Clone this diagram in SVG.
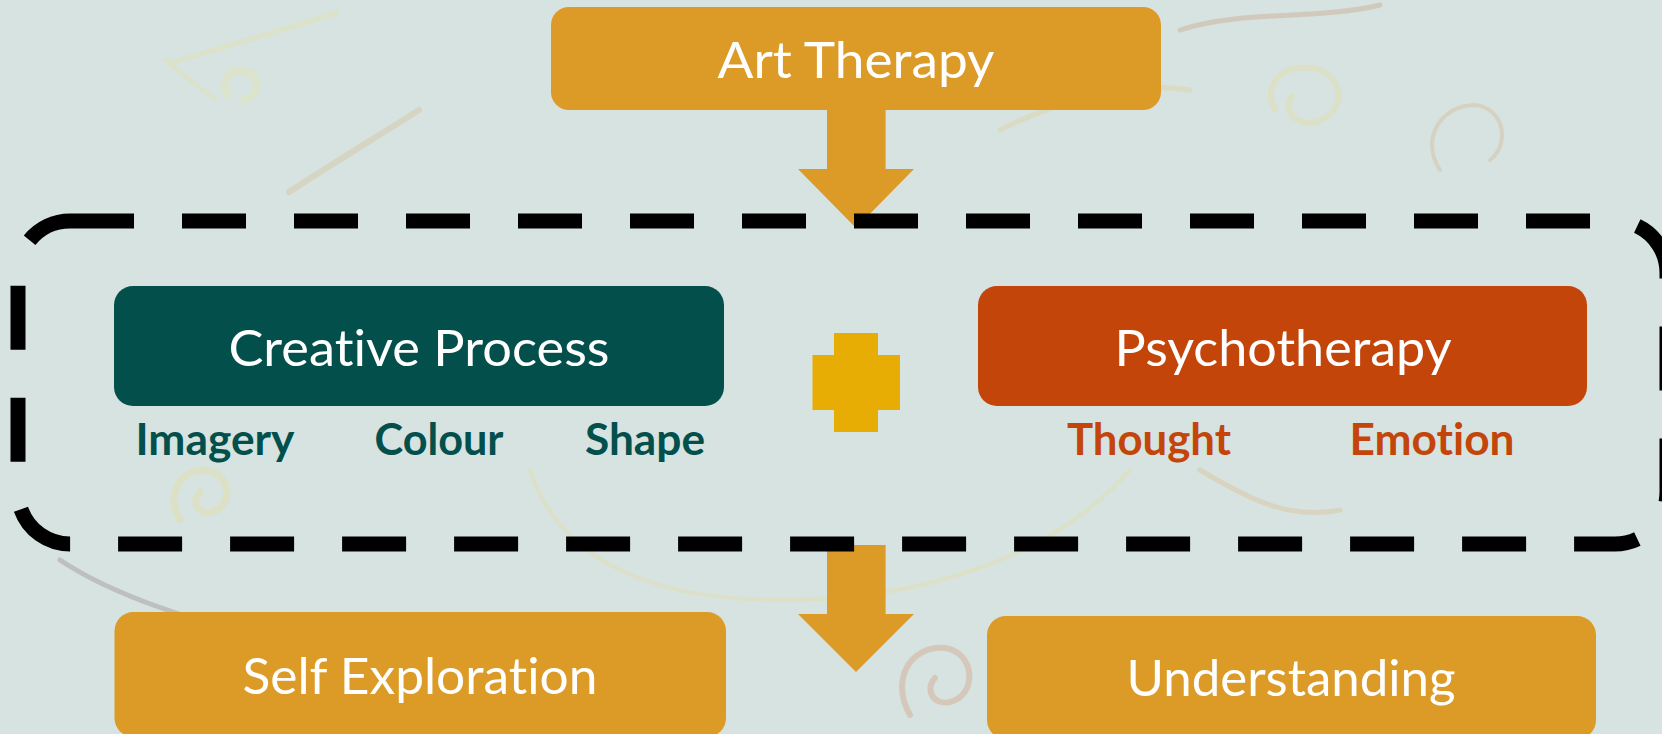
<svg xmlns="http://www.w3.org/2000/svg" width="1662" height="734" viewBox="0 0 1662 734">
  <defs>
    <style>
      .gold{fill:#dc9a27}
      .title{font-family:Lato,"Open Sans","Liberation Sans",sans-serif;font-weight:400;font-size:51px;fill:#ffffff;text-anchor:middle;font-variant-ligatures:none}
      .sub{font-family:Lato,"Open Sans","Liberation Sans",sans-serif;font-weight:700;font-size:43px;text-anchor:middle;font-variant-ligatures:none}
      .teal{fill:#034f4c}
      .rust{fill:#c4450a}
      .paint{fill:none;stroke-linecap:round;stroke-linejoin:round}
      .frame{fill:none;stroke:#000000;stroke-width:15;stroke-dasharray:64 48;stroke-linecap:butt}
    </style>
  </defs>

  <!-- washed-out paint-splatter backdrop -->
  <g id="backdrop">
    <rect x="0" y="0" width="1662" height="734" fill="#d6e3e0"/>
    <g class="paint" opacity="0.22">
      <path d="M171,63 C230,45 290,28 336,13" stroke="#f2e27a" stroke-width="5"/>
      <path d="M165,60 C185,75 200,90 215,98" stroke="#f2e27a" stroke-width="4"/>
      <path d="M228,95 C218,80 232,66 248,72 C262,78 258,96 244,100" stroke="#f4e48a" stroke-width="8"/>
      <path d="M289,192 C330,165 380,135 419,110" stroke="#d8a45a" stroke-width="6"/>
      <path d="M1000,130 C1060,100 1130,80 1190,90" stroke="#e8c060" stroke-width="5"/>
      <path d="M1275,110 C1260,80 1290,60 1320,70 C1345,80 1345,115 1315,122 C1295,126 1282,110 1292,96" stroke="#f0d870" stroke-width="6"/>
      <path d="M1440,170 C1420,140 1440,105 1475,105 C1505,108 1510,145 1490,160" stroke="#d89a60" stroke-width="4"/>
      <path d="M1180,30 C1240,10 1320,20 1380,5" stroke="#c07040" stroke-width="5"/>
      <path d="M180,520 C165,495 180,470 205,470 C230,472 235,505 212,512 C198,516 190,500 200,492" stroke="#f2dc6a" stroke-width="7"/>
      <path d="M60,560 C120,600 200,620 260,640" stroke="#6a4a4a" stroke-width="5"/>
      <path d="M530,470 C560,560 650,600 780,600 C920,600 1050,560 1130,470" stroke="#f0d870" stroke-width="4"/>
      <path d="M910,715 C890,680 910,645 945,648 C975,652 978,695 950,702 C932,706 925,688 935,678" stroke="#d46a3a" stroke-width="6"/>
      <path d="M1200,470 C1250,500 1290,520 1340,510" stroke="#e0a050" stroke-width="5"/>
    </g>
  </g>

  <!-- arrows and the dashed grouping frame -->
  <g id="connectors">
    <path class="gold" d="M827,106 H885.6 V169 H914 L856,228 L798,169 H827 Z"/>
    <path class="gold" d="M827,545 H885.6 V614 H914 L856,672 L798,614 H827 Z"/>
    <path class="frame" d="M70,221 H1615 A52,52 0 0 1 1667,273 V492 A52,52 0 0 1 1615,544 H70 A52,52 0 0 1 18,492 V273 A52,52 0 0 1 70,221 Z"/>
  </g>

  <g id="art-therapy">
    <rect class="gold" x="551" y="7" width="610" height="103" rx="18"/>
    <text class="title" x="856" y="78" textLength="277" lengthAdjust="spacingAndGlyphs">Art Therapy</text>
  </g>

  <g id="creative-process">
    <rect class="teal" x="114" y="286" width="610" height="120" rx="19"/>
    <text class="title" x="419" y="366" textLength="381" lengthAdjust="spacingAndGlyphs">Creative Process</text>
    <text class="sub teal" x="215" y="455" textLength="159" lengthAdjust="spacingAndGlyphs">Imagery</text>
    <text class="sub teal" x="439" y="455" textLength="129" lengthAdjust="spacingAndGlyphs">Colour</text>
    <text class="sub teal" x="645" y="455" textLength="120" lengthAdjust="spacingAndGlyphs">Shape</text>
  </g>

  <g id="plus">
    <path fill="#e8ad05" d="M834,333 H878 V355 H900 V410 H878 V432 H834 V410 H812.5 V355 H834 Z"/>
  </g>

  <g id="psychotherapy">
    <rect class="rust" x="978" y="286" width="609" height="120" rx="19"/>
    <text class="title" x="1283" y="366" textLength="337" lengthAdjust="spacingAndGlyphs">Psychotherapy</text>
    <text class="sub rust" x="1149" y="455" textLength="164" lengthAdjust="spacingAndGlyphs">Thought</text>
    <text class="sub rust" x="1432" y="455" textLength="165" lengthAdjust="spacingAndGlyphs">Emotion</text>
  </g>

  <g id="self-exploration">
    <rect class="gold" x="114.5" y="612" width="611.5" height="125" rx="19"/>
    <text class="title" x="420" y="694" textLength="355" lengthAdjust="spacingAndGlyphs">Self Exploration</text>
  </g>

  <g id="understanding">
    <rect class="gold" x="987" y="616" width="609" height="123" rx="19"/>
    <text class="title" x="1291" y="696" textLength="329" lengthAdjust="spacingAndGlyphs">Understanding</text>
  </g>
</svg>
